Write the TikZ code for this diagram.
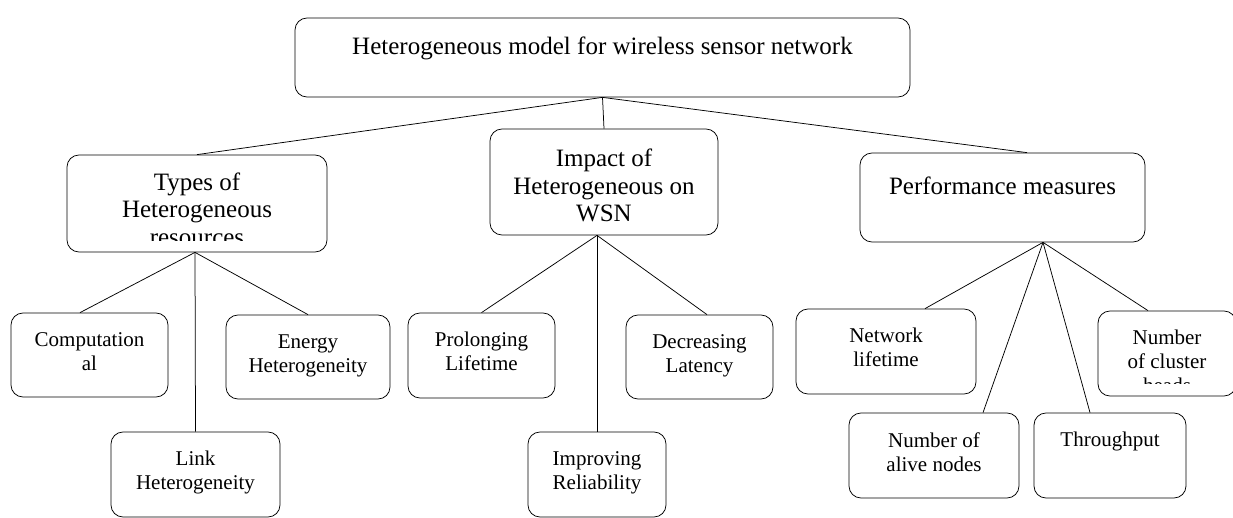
\documentclass[tikz,border=0pt]{standalone}
\usepackage{fontspec}
\setmainfont{Liberation Serif}
\usetikzlibrary{positioning}

\begin{document}
\begin{tikzpicture}[x=1pt,y=-1pt,
  every node/.style={inner sep=0pt},
  box/.style={draw,line width=0.75pt,rounded corners=12pt},
  head/.style={font=\fontsize{25}{27.5}\selectfont,align=center},
  leaf/.style={font=\fontsize{21}{24}\selectfont,align=center},
  ln/.style={line width=0.75pt}]
\useasboundingbox (0,0) rectangle (1233,518);
% top
\node[box,minimum width=615pt,minimum height=79pt] (root) at (602.5,57.5) {};
\node[head,below=19pt of root.north] (root-t) {Heterogeneous model for wireless sensor network};
% second row
\node[box,minimum width=260pt,minimum height=97pt] (types) at (197,203.5) {};
\node[box,minimum width=228pt,minimum height=106pt] (impact) at (604,182) {};
\node[box,minimum width=285pt,minimum height=89pt] (perf) at (1002.5,197.5) {};
\begin{scope}
\clip (types.north west) rectangle ([yshift=12pt]types.south east);
\node[head,below=18pt of types.north] (types-t) {Types of\\Heterogeneous\\resources};
\end{scope}
\node[head,below=20.5pt of impact.north] (impact-t) {Impact of\\Heterogeneous on\\WSN};
\node[head,below=24pt of perf.north] (perf-t) {Performance measures};
% leaves
\node[box,minimum width=157pt,minimum height=84pt] (comp) at (89.5,355) {};
\node[box,minimum width=164pt,minimum height=84pt] (energy) at (308,357) {};
\node[box,minimum width=169pt,minimum height=85pt] (link) at (195.5,474.5) {};
\node[box,minimum width=147pt,minimum height=85pt] (prol) at (481.5,355.5) {};
\node[box,minimum width=147pt,minimum height=84pt] (decr) at (699.5,357) {};
\node[box,minimum width=138pt,minimum height=85pt] (impr) at (597,474.5) {};
\node[box,minimum width=180pt,minimum height=85pt] (net) at (886,351.5) {};
\node[box,minimum width=138pt,minimum height=85pt] (clus) at (1167,353.5) {};
\node[box,minimum width=170pt,minimum height=85pt] (alive) at (934,455.5) {};
\node[box,minimum width=152pt,minimum height=85pt] (thru) at (1110,455.5) {};
\node[leaf,below=19.5pt of comp.north] (comp-t) {Computation\\al};
\node[leaf,below=19.5pt of energy.north] (energy-t) {Energy\\Heterogeneity};
\node[leaf,below=19.5pt of link.north] (link-t) {Link\\Heterogeneity};
\node[leaf,below=19.5pt of prol.north] (prol-t) {Prolonging\\Lifetime};
\node[leaf,below=19.5pt of decr.north] (decr-t) {Decreasing\\Latency};
\node[leaf,below=19.5pt of impr.north] (impr-t) {Improving\\Reliability};
\node[leaf,below=19.5pt of net.north] (net-t) {Network\\lifetime};
\begin{scope}
\clip (clus.north west) rectangle ([yshift=13pt]clus.south east);
\node[leaf,below=19.5pt of clus.north] (clus-t) {Number\\of cluster\\heads};
\end{scope}
\node[leaf,below=19.5pt of alive.north] (alive-t) {Number of\\alive nodes};
\node[leaf,below=19.5pt of thru.north] (thru-t) {Throughput};
% connectors
\draw[ln] (root.south) -- (types.north);
\draw[ln] (root.south) -- (impact.north);
\draw[ln] (root.south) -- ([xshift=24.5pt]perf.north);
\draw[ln] ([xshift=-2pt]types.south) -- ([xshift=-9.5pt]comp.north);
\draw[ln] ([xshift=-2pt]types.south) -- (energy.north);
\draw[ln] ([xshift=-2pt]types.south) -- (link.north);
\coordinate (impact-b) at ([xshift=-7pt]impact.south);
\draw[ln] (impact-b) -- (prol.north);
\draw[ln] (impact-b) -- ([xshift=7.5pt]decr.north);
\draw[ln] (impact-b) -- (impr.north);
\coordinate (perf-b) at ([xshift=40.5pt]perf.south);
\draw[ln] (perf-b) -- ([xshift=39pt]net.north);
\draw[ln] (perf-b) -- ([xshift=-19pt]clus.north);
\draw[ln] (perf-b) -- ([xshift=49pt]alive.north);
\draw[ln] (perf-b) -- ([xshift=-20pt]thru.north);
\end{tikzpicture}
\end{document}
